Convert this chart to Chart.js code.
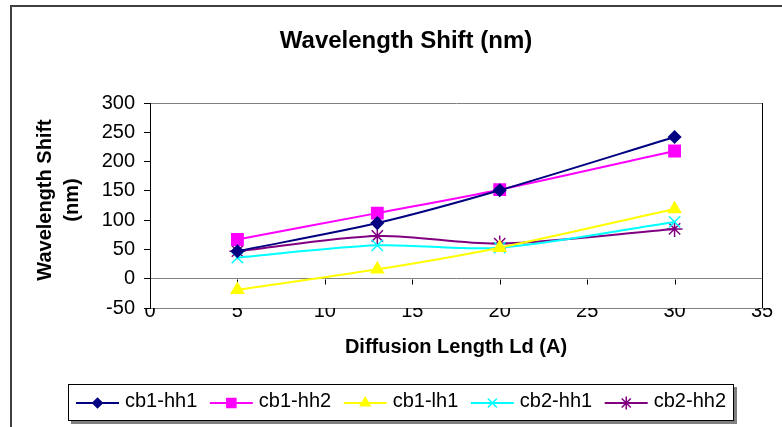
<!DOCTYPE html>
<html>
<head>
<meta charset="utf-8">
<script src="https://cdn.jsdelivr.net/npm/chart.js@4/dist/chart.umd.min.js"></script>
<style>
  html, body { margin: 0; padding: 0; background: #fff; }
</style>
</head>
<body>
<canvas id="myChart" width="782" height="427"></canvas>
<script>
// data
const diffusionLength = [5, 13, 20, 30];
const cb1hh1 = [47, 95, 151, 242];
const cb1hh2 = [67, 112, 152, 218];
const cb1lh1 = [-19, 16, 53, 119];
const cb2hh1 = [36, 57, 53, 97];
const cb2hh2 = [47, 73, 60, 85];
const xTicks = [0, 5, 10, 15, 20, 25, 30, 35];
const yTicks = [-50, 0, 50, 100, 150, 200, 250, 300];

const FONT = "'Liberation Sans', Arial, sans-serif";

function series(label, values, color, style, radius) {
    return {
        label: label,
        data: diffusionLength.map((x, i) => ({ x: x, y: values[i] })),
        borderColor: color,
        backgroundColor: color,
        pointStyle: style,
        pointRadius: radius,
        pointBorderWidth: 1.5,
        borderWidth: 2,
        showLine: true,
        tension: 0.3
    };
}

const datasets = [
    series('cb1-hh1', cb1hh1, '#000080', 'rectRot', 6),
    series('cb1-hh2', cb1hh2, '#FF00FF', 'rect', 8),
    series('cb1-lh1', cb1lh1, '#FFFF00', 'triangle', 7),
    series('cb2-hh1', cb2hh1, '#00FFFF', 'crossRot', 8),
    series('cb2-hh2', cb2hh2, '#800080', 'star', 8)
];

const decorations = {
    id: 'decorations',
    beforeDraw(chart) {
        const ctx = chart.ctx;
        ctx.save();
        ctx.strokeStyle = '#404040';
        ctx.lineWidth = 2;
        ctx.beginPath();
        ctx.moveTo(11, 440);
        ctx.lineTo(11, 6);
        ctx.lineTo(800, 6);
        ctx.stroke();
        ctx.restore();
    },
    beforeDatasetsDraw(chart) {
        // small tick marks hanging under the zero line
        const ctx = chart.ctx;
        const x = chart.scales.x, y = chart.scales.y;
        const y0 = Math.round(y.getPixelForValue(0)) + 0.5;
        ctx.save();
        ctx.strokeStyle = '#000';
        ctx.lineWidth = 1;
        ctx.beginPath();
        xTicks.slice(1).forEach(v => {
            const px = Math.round(x.getPixelForValue(v)) + 0.5;
            ctx.moveTo(px, y0);
            ctx.lineTo(px, y0 + 5);
        });
        ctx.stroke();
        ctx.restore();
    },
    afterDraw(chart) {
        const ctx = chart.ctx;
        const area = chart.chartArea;
        ctx.save();
        ctx.fillStyle = '#000';

        // title
        ctx.font = 'bold 24px ' + FONT;
        ctx.textAlign = 'center';
        ctx.textBaseline = 'alphabetic';
        ctx.fillText('Wavelength Shift (nm)', 406, 48);

        // x axis title
        ctx.font = 'bold 20px ' + FONT;
        ctx.fillText('Diffusion Length Ld (A)', (area.left + area.right) / 2, 353);

        // y axis title, two lines
        ctx.save();
        ctx.translate(45, 200);
        ctx.rotate(-Math.PI / 2);
        ctx.textBaseline = 'middle';
        ctx.fillText('Wavelength Shift', 0, 0);
        ctx.fillText('(nm)', 0, 27);
        ctx.restore();

        // legend box
        const box = { left: 68, top: 384, right: 734, bottom: 421 };
        ctx.fillStyle = '#808080';
        ctx.fillRect(box.left + 3, box.top + 3, box.right - box.left, box.bottom - box.top);
        ctx.fillStyle = '#fff';
        ctx.fillRect(box.left, box.top, box.right - box.left, box.bottom - box.top);
        ctx.strokeStyle = '#000';
        ctx.lineWidth = 1;
        ctx.strokeRect(box.left + 0.5, box.top + 0.5, box.right - box.left - 1, box.bottom - box.top - 1);

        ctx.font = '20px ' + FONT;
        ctx.textAlign = 'left';
        ctx.textBaseline = 'alphabetic';
        const lineLen = 43, gapText = 6;
        const widths = datasets.map(d => ctx.measureText(d.label).width);
        const startX = 76, endX = 726;
        const used = widths.reduce((a, w) => a + w + lineLen + gapText, 0);
        const gap = (endX - startX - used) / (datasets.length - 1);
        let cx = startX;
        const ly = 403;
        datasets.forEach((d, i) => {
            ctx.strokeStyle = d.borderColor;
            ctx.lineWidth = 2;
            ctx.beginPath();
            ctx.moveTo(cx, ly);
            ctx.lineTo(cx + lineLen, ly);
            ctx.stroke();
            ctx.fillStyle = d.backgroundColor;
            ctx.lineWidth = 1.5;
            Chart.helpers.drawPoint(ctx, {
                pointStyle: d.pointStyle,
                radius: d.pointRadius * 0.8,
                rotation: 0,
                borderWidth: 1.5
            }, cx + lineLen / 2, ly);
            ctx.fillStyle = '#000';
            ctx.fillText(d.label, cx + lineLen + gapText, 407);
            cx += lineLen + gapText + widths[i] + gap;
        });
        ctx.restore();
    }
};

const ctx = document.getElementById('myChart');

new Chart(ctx, {
    type: 'scatter',
    data: { datasets: datasets },
    options: {
        responsive: false,
        animation: false,
        layout: { padding: { top: 103, right: 20, bottom: 0, left: 0 } },
        plugins: {
            legend: { display: false },
            title: { display: false },
            tooltip: { enabled: false }
        },
        scales: {
            x: {
                type: 'linear',
                min: 0,
                max: 35,
                afterBuildTicks: s => { s.ticks = xTicks.map(v => ({ value: v })); },
                afterFit: s => { s.height = 119; },
                grid: {
                    color: c => (c.tick && c.tick.value === 35) ? '#000' : 'rgba(0,0,0,0)',
                    drawTicks: false
                },
                border: { color: '#808080', width: 1 },
                ticks: { padding: -9, color: '#000', maxRotation: 0, font: { family: FONT, size: 20 } }
            },
            y: {
                min: -50,
                max: 300,
                afterBuildTicks: s => { s.ticks = yTicks.map(v => ({ value: v })); },
                afterFit: s => { s.width = 150; },
                grid: {
                    color: c => (c.tick && [-50, 0, 300].includes(c.tick.value)) ? '#808080' : 'rgba(0,0,0,0)',
                    tickColor: '#000',
                    tickLength: 6
                },
                border: { color: '#000', width: 1 },
                ticks: { padding: 9, color: '#000', font: { family: FONT, size: 20 } }
            }
        }
    },
    plugins: [decorations]
});
</script>
</body>
</html>
